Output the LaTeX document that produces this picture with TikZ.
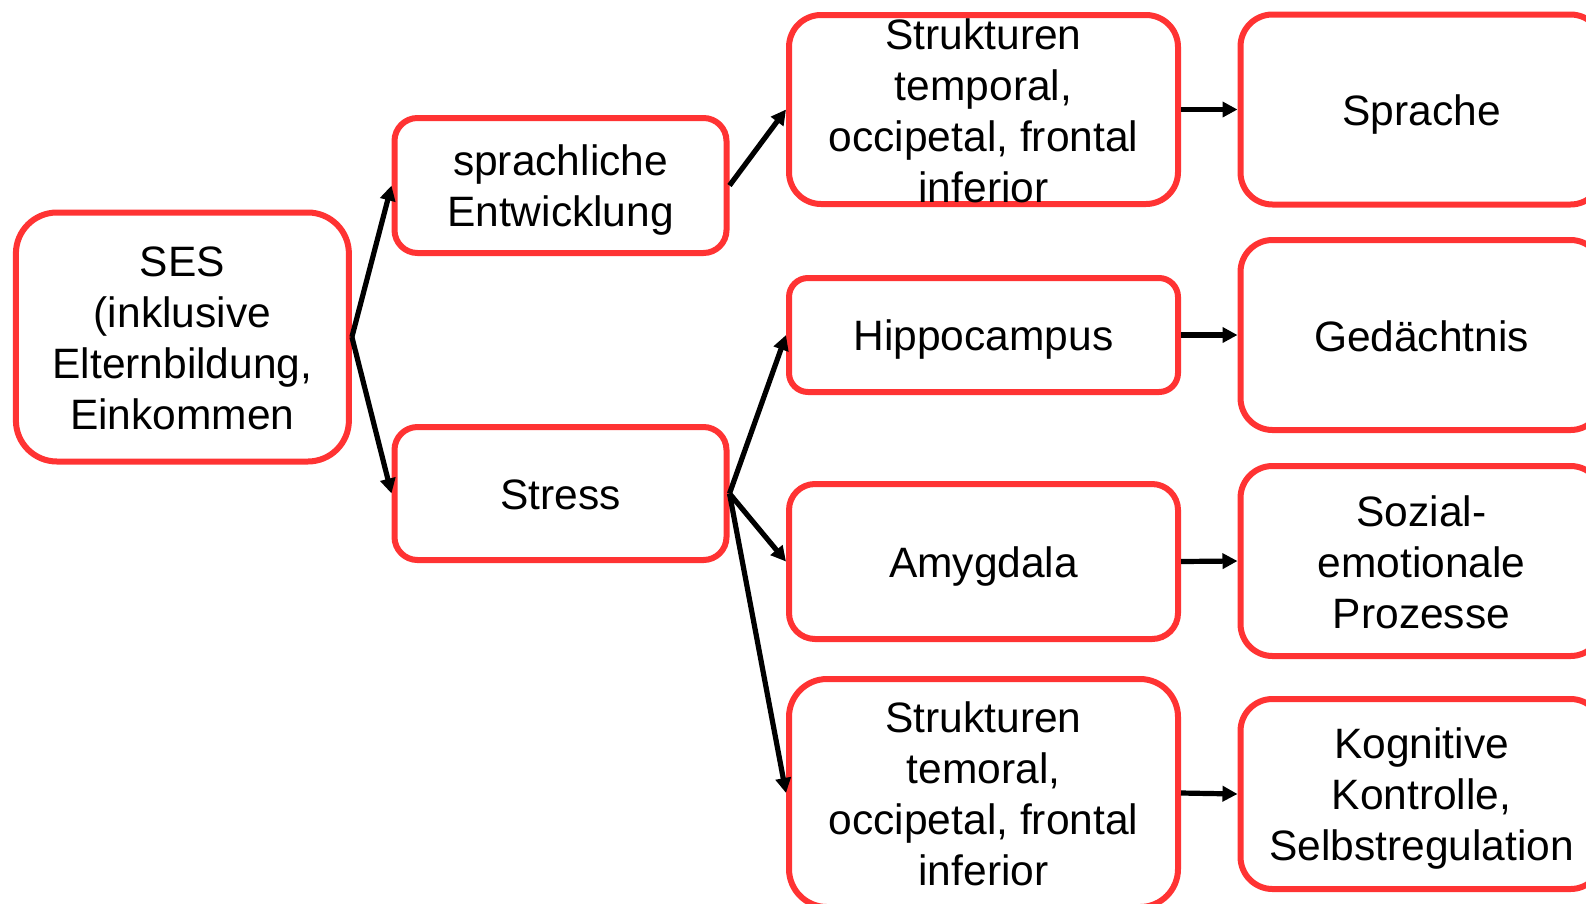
\documentclass[tikz,border=0pt]{standalone}
\usepackage{fontspec}
\setmainfont{Liberation Sans}
\usetikzlibrary{arrows.meta}
\definecolor{boxred}{RGB}{255,51,51}
\newcommand{\ls}{\rule[-8pt]{0pt}{48pt}}
\begin{document}
\begin{tikzpicture}[x=1pt,y=-1pt,
  box/.style={draw=boxred, line width=6pt, fill=white, inner sep=0pt, rectangle},
  lbl/.style={font=\fontsize{42.5}{51}\selectfont, align=center, inner sep=0pt, text=black},
  conn/.style={-{Triangle[length=15pt,width=15pt]}, line width=5.2pt, black}]
\path[use as bounding box] (0,0) rectangle (1586,903);
\clip (0,0) rectangle (1586,903);

% boxes
\node[box, minimum width=333pt, minimum height=249pt, rounded corners=41pt] (ses) at (182.4,337) {};
\node[box, minimum width=332pt, minimum height=135pt, rounded corners=23pt] (spr) at (560.5,185.5) {};
\node[box, minimum width=332pt, minimum height=133pt, rounded corners=23pt] (str) at (560.5,493.5) {};
\node[box, minimum width=389pt, minimum height=189pt, rounded corners=32pt] (s1) at (983.5,109.5) {};
\node[box, minimum width=389pt, minimum height=114pt, rounded corners=19pt] (hip) at (983.5,335) {};
\node[box, minimum width=389pt, minimum height=155pt, rounded corners=26pt] (amy) at (983.5,561.5) {};
\node[box, minimum width=389pt, minimum height=228pt, rounded corners=38pt] (s2) at (983.5,793) {};
\node[box, minimum width=362pt, minimum height=190pt, rounded corners=32pt] (spc) at (1421.5,109.5) {};
\node[box, minimum width=362pt, minimum height=190pt, rounded corners=32pt] (ged) at (1421.5,335) {};
\node[box, minimum width=362pt, minimum height=190pt, rounded corners=32pt] (soz) at (1421.5,561) {};
\node[box, minimum width=362pt, minimum height=190pt, rounded corners=32pt] (kog) at (1421.5,794) {};

% texts
\node[lbl] (tses) at (ses.center) {\ls SES\\\ls(inklusive\\\ls Elternbildung,\\\ls Einkommen};
\node[lbl] (tspr) at (spr.center) {\ls sprachliche\\\ls Entwicklung};
\node[lbl] (tstr) at (str.center) {\ls Stress};
\node[lbl] (ts1) at (s1.center) {\ls Strukturen\\\ls temporal,\\\ls occipetal, frontal\\\ls inferior};
\node[lbl] (thip) at (hip.center) {\ls Hippocampus};
\node[lbl] (tamy) at (amy.center) {\ls Amygdala};
\node[lbl] (ts2) at (s2.center) {\ls Strukturen\\\ls temoral,\\\ls occipetal, frontal\\\ls inferior};
\node[lbl] (tspc) at (spc.center) {\ls Sprache};
\node[lbl] (tged) at (ged.center) {\ls Gedächtnis};
\node[lbl] (tsoz) at (soz.center) {\ls Sozial-\\\ls emotionale\\\ls Prozesse};
\node[lbl] (tkog) at (kog.center) {\ls Kognitive\\\ls Kontrolle,\\\ls Selbstregulation};

% connectors
\draw[conn] (ses.east) -- (spr.west);
\draw[conn] (ses.east) -- (str.west);
\draw[conn] (spr.east) -- (s1.west);
\draw[conn] (str.east) -- (hip.west);
\draw[conn] (str.east) -- (amy.west);
\draw[conn] (str.east) -- (s2.west);
\draw[conn] (s1.east) -- (spc.west);
\draw[conn] (hip.east) -- (ged.west);
\draw[conn] (amy.east) -- (soz.west);
\draw[conn] (s2.east) -- (kog.west);
\end{tikzpicture}
\end{document}
